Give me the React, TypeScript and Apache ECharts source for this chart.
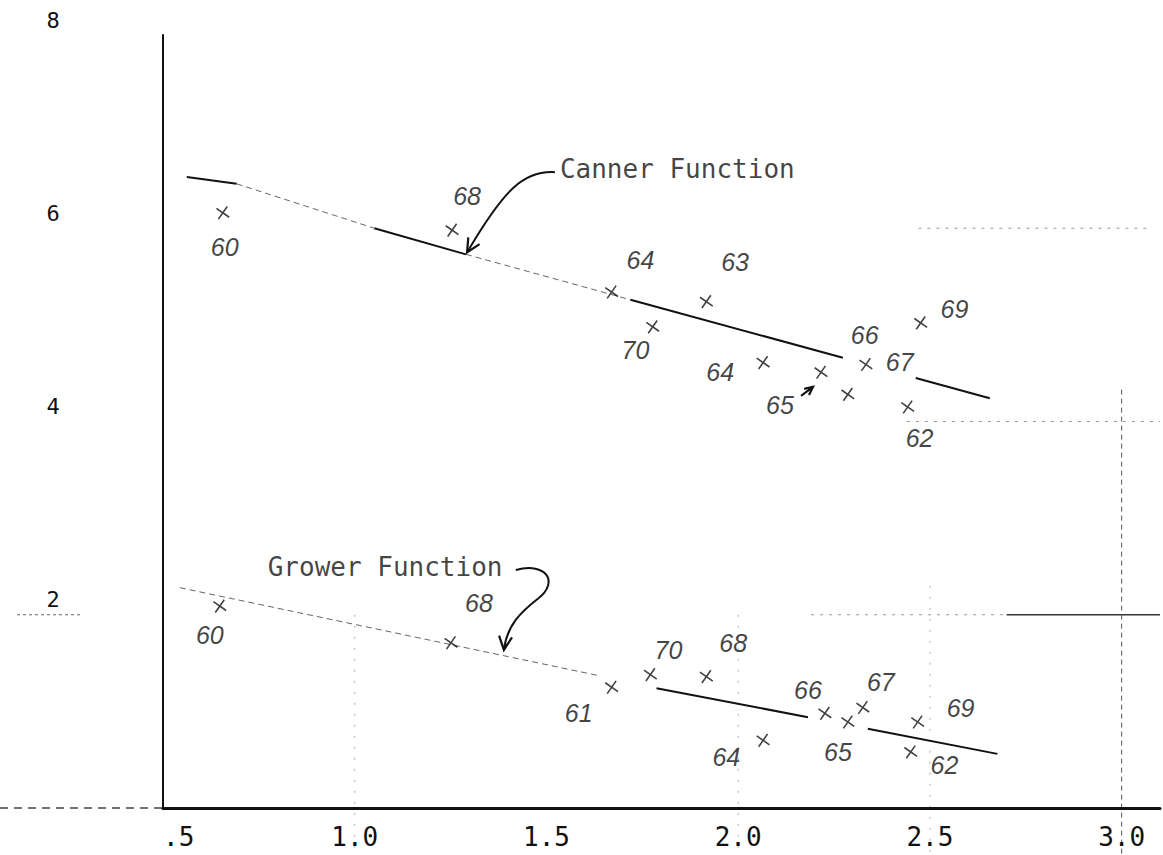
import React, { useEffect, useRef } from "react";
import * as echarts from "echarts";

// ---- axis ticks ----
const xTickValues = [0.5, 1.0, 1.5, 2.0, 2.5, 3.0];
const xTickLabels = [".5", "1.0", "1.5", "2.0", "2.5", "3.0"];
const yTickValues = [2, 4, 6, 8];
const yTickLabels = ["2", "4", "6", "8"];

// ---- Canner function observations (x, y) ----
const cannerPoints: number[][] = [
  [0.656, 6.16],
  [1.254, 5.98],
  [1.67, 5.34],
  [1.917, 5.24],
  [1.777, 4.98],
  [2.065, 4.61],
  [2.216, 4.51],
  [2.286, 4.28],
  [2.333, 4.59],
  [2.476, 5.02],
  [2.442, 4.15],
];
// handwritten year labels (x, y, text)
const cannerYearLabels: [number, number, string][] = [
  [0.661, 5.81, "60"],
  [1.293, 6.33, "68"],
  [1.745, 5.67, "64"],
  [1.992, 5.65, "63"],
  [1.732, 4.74, "70"],
  [1.953, 4.51, "64"],
  [2.109, 4.17, "65"],
  [2.33, 4.9, "66"],
  [2.421, 4.62, "67"],
  [2.564, 5.16, "69"],
  [2.473, 3.83, "62"],
];

// ---- Grower function observations (x, y) ----
const growerPoints: number[][] = [
  [0.648, 2.09],
  [1.251, 1.71],
  [1.67, 1.25],
  [1.771, 1.38],
  [1.917, 1.36],
  [2.065, 0.7],
  [2.226, 0.98],
  [2.286, 0.89],
  [2.325, 1.04],
  [2.468, 0.89],
  [2.45, 0.58],
];
const growerYearLabels: [number, number, string][] = [
  [0.622, 1.79, "60"],
  [1.324, 2.12, "68"],
  [1.584, 0.98, "61"],
  [1.818, 1.64, "70"],
  [1.987, 1.71, "68"],
  [1.969, 0.53, "64"],
  [2.182, 1.22, "66"],
  [2.26, 0.58, "65"],
  [2.372, 1.3, "67"],
  [2.58, 1.04, "69"],
  [2.538, 0.45, "62"],
];

// ---- fitted lines, as drawn pieces ----
const cannerSolidPieces: number[][][] = [
  [[0.562, 6.53], [0.692, 6.46]],
  [[1.051, 6.0], [1.29, 5.73]],
  [[1.719, 5.26], [2.273, 4.66]],
  [[2.463, 4.45], [2.656, 4.24]],
];
const cannerFaintPieces: number[][][] = [
  [[0.692, 6.46], [1.051, 6.0]],
  [[1.29, 5.73], [1.719, 5.26]],
];
const growerSolidPieces: number[][][] = [
  [[1.787, 1.24], [2.182, 0.94]],
  [[2.338, 0.82], [2.676, 0.56]],
];
const growerFaintPieces: number[][][] = [[[0.544, 2.28], [1.636, 1.37]]];

// ---- annotation titles (x, y, text) ----
const functionTitles: [number, number, string][] = [
  [1.535, 6.61, "Canner Function"],
  [0.773, 2.49, "Grower Function"],
];

// ---- annotation arrows (cubic bezier chains, data coords) ----
const annotationArrows: number[][][] = [
  [[1.522, 6.58], [1.441, 6.6], [1.389, 6.4], [1.293, 5.75]],
  [[1.42, 2.464], [1.501, 2.547], [1.532, 2.34], [1.48, 2.174], [1.433, 2.029], [1.397, 1.894], [1.389, 1.636]],
  [[2.164, 4.265], [2.174, 4.296], [2.185, 4.327], [2.195, 4.358]],
];

// ---- faint guide lines on the sheet ----
const guideFaintH: number[][] = [
  [2, 2.19, 2.7],
  [4, 2.44, 3.1],
  [6, 2.47, 3.07],
];
const guideDarkH: number[][] = [[2, 2.7, 3.1]];
const guideFaintV: number[][] = [
  [2.5, 2.3],
  [2.0, 2.0],
  [1.0, 2.0],
];
const guideDarkV: number[][] = [[3.0, 4.33]];

const MONO = "'DejaVu Sans Mono', monospace";
const HAND = "'Liberation Sans', 'DejaVu Sans', sans-serif";
const INK = "#111";

function near(a: number, b: number) {
  return Math.abs(a - b) < 1e-6;
}

export default function App() {
  const ref = useRef<HTMLDivElement>(null);

  useEffect(() => {
    document.body.style.margin = "0";
    const el = ref.current!;
    const chart = echarts.init(el, null, { renderer: "svg" });

    const xSymbol = "path://M0 0L10 10M10 0L0 10";

    const pieceSeries = (pieces: number[][][], width: number, faint: boolean) =>
      pieces.map((p) => ({
        type: "line",
        data: p,
        symbol: "none",
        silent: true,
        lineStyle: faint
          ? { color: "#666", width: 1, type: [6, 4] }
          : { color: INK, width },
        z: 3,
      }));

    const pointSeries = (pts: number[][]) => ({
      type: "scatter",
      data: pts,
      symbol: xSymbol,
      symbolSize: 11,
      symbolRotate: 10,
      itemStyle: { color: "transparent", borderColor: INK, borderWidth: 1.6 },
      silent: true,
      z: 4,
    });

    const labelSeries = (labels: [number, number, string][]) => ({
      type: "scatter",
      data: labels,
      symbolSize: 0,
      silent: true,
      label: {
        show: true,
        position: "inside",
        formatter: (p: any) => p.value[2],
        fontFamily: HAND,
        fontStyle: "italic",
        fontSize: 25,
        color: INK,
      },
      z: 5,
    });

    chart.setOption({
      animation: false,
      backgroundColor: "#fff",
      grid: { left: 163, right: 0, top: 35, bottom: 47, containLabel: false },
      xAxis: {
        type: "value",
        min: 0.5,
        max: 3.1,
        interval: 0.5,
        axisLine: { show: true, onZero: false, lineStyle: { color: INK, width: 3 } },
        axisTick: { show: false },
        splitLine: { show: false },
        axisLabel: {
          margin: 16,
          fontFamily: MONO,
          fontSize: 26,
          color: INK,
          alignMinLabel: "left",
          formatter: (v: number) => {
            const i = xTickValues.findIndex((t) => near(t, v));
            return i >= 0 ? xTickLabels[i] : "";
          },
        },
      },
      yAxis: {
        type: "value",
        min: 0,
        max: 8,
        interval: 2,
        axisLine: { show: true, onZero: false, lineStyle: { color: INK, width: 2 } },
        axisTick: { show: false },
        splitLine: { show: false },
        axisLabel: {
          margin: 110,
          align: "center",
          verticalAlign: "bottom",
          lineHeight: 30,
          fontFamily: MONO,
          fontSize: 22,
          color: INK,
          formatter: (v: number) => {
            const i = yTickValues.findIndex((t) => near(t, v));
            return i >= 0 ? yTickLabels[i] : "";
          },
        },
      },
      series: [
        ...pieceSeries(cannerSolidPieces, 2, false),
        ...pieceSeries(cannerFaintPieces, 1, true),
        ...pieceSeries(growerSolidPieces, 2, false),
        ...pieceSeries(growerFaintPieces, 1, true),
        pointSeries(cannerPoints),
        pointSeries(growerPoints),
        labelSeries(cannerYearLabels),
        labelSeries(growerYearLabels),
        {
          type: "scatter",
          data: functionTitles,
          symbolSize: 0,
          silent: true,
          label: {
            show: true,
            position: "right",
            distance: 0,
            formatter: (p: any) => p.value[2],
            fontFamily: MONO,
            fontSize: 26,
            color: INK,
          },
          z: 5,
        },
        {
          type: "custom",
          coordinateSystem: "cartesian2d",
          silent: true,
          clip: false,
          data: annotationArrows.map((a, i) => [a[0][0], a[0][1], i]),
          renderItem: (params: any, api: any) => {
            const idx = api.value(2);
            const pts = annotationArrows[idx].map((p) => api.coord(p));
            const children: any[] = [];
            for (let i = 0; i + 3 < pts.length; i += 3) {
              children.push({
                type: "bezierCurve",
                shape: {
                  x1: pts[i][0], y1: pts[i][1],
                  cpx1: pts[i + 1][0], cpy1: pts[i + 1][1],
                  cpx2: pts[i + 2][0], cpy2: pts[i + 2][1],
                  x2: pts[i + 3][0], y2: pts[i + 3][1],
                },
                style: { stroke: INK, fill: "none", lineWidth: 2 },
              });
            }
            const tip = pts[pts.length - 1];
            const prev = pts[pts.length - 2];
            const ang = Math.atan2(tip[1] - prev[1], tip[0] - prev[0]);
            const L = idx === 2 ? 9 : 15;
            const spread = 0.45;
            const a1 = ang + Math.PI - spread;
            const a2 = ang + Math.PI + spread;
            children.push({
              type: "polyline",
              shape: {
                points: [
                  [tip[0] + L * Math.cos(a1), tip[1] + L * Math.sin(a1)],
                  [tip[0], tip[1]],
                  [tip[0] + L * Math.cos(a2), tip[1] + L * Math.sin(a2)],
                ],
              },
              style: { stroke: INK, fill: "none", lineWidth: 2.2 },
            });
            return { type: "group", children };
          },
          z: 6,
        },
      ],
    });

    // faint sheet guide lines, placed with the chart's own coordinate conversion
    const toPx = (x: number, y: number) =>
      chart.convertToPixel({ gridIndex: 0 }, [x, y]) as number[];
    const H = el.clientHeight;
    const graphics: any[] = [];
    guideFaintH.forEach(([y, x0, x1]) => {
      const a = toPx(x0, y);
      const b = toPx(x1, y);
      graphics.push({
        type: "line", silent: true,
        shape: { x1: a[0], y1: a[1], x2: b[0], y2: b[1] },
        style: { stroke: "#999", lineWidth: 1, lineDash: [3, 6] },
      });
    });
    guideDarkH.forEach(([y, x0, x1]) => {
      const a = toPx(x0, y);
      const b = toPx(x1, y);
      graphics.push({
        type: "line", silent: true,
        shape: { x1: a[0], y1: a[1], x2: b[0], y2: b[1] },
        style: { stroke: "#333", lineWidth: 1.5 },
      });
    });
    guideFaintV.forEach(([x, yTop]) => {
      const a = toPx(x, yTop);
      graphics.push({
        type: "line", silent: true,
        shape: { x1: a[0], y1: a[1], x2: a[0], y2: H },
        style: { stroke: "#aaa", lineWidth: 1, lineDash: [2, 9] },
      });
    });
    guideDarkV.forEach(([x, yTop]) => {
      const a = toPx(x, yTop);
      graphics.push({
        type: "line", silent: true,
        shape: { x1: a[0], y1: a[1], x2: a[0], y2: H },
        style: { stroke: "#555", lineWidth: 1, lineDash: [5, 4] },
      });
    });
    // dashed continuation of x axis to the left, and tick stub under "2"
    const origin = toPx(0.5, 0);
    graphics.push({
      type: "line", silent: true,
      shape: { x1: 0, y1: origin[1], x2: origin[0], y2: origin[1] },
      style: { stroke: "#444", lineWidth: 1.5, lineDash: [8, 6] },
    });
    const two = toPx(0.5, 2);
    graphics.push({
      type: "line", silent: true,
      shape: { x1: 17, y1: two[1], x2: 80, y2: two[1] },
      style: { stroke: "#666", lineWidth: 1, lineDash: [3, 3] },
    });
    chart.setOption({ graphic: graphics });

    return () => chart.dispose();
  }, []);

  return <div ref={ref} style={{ width: 1163, height: 855 }} />;
}
